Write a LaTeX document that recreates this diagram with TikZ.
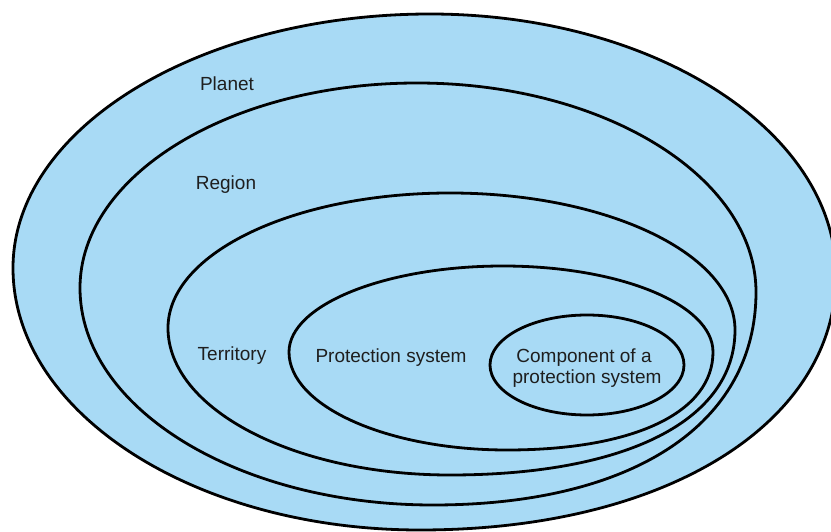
\documentclass[tikz,border=0pt]{standalone}
\usepackage{fontspec}
\setmainfont{Liberation Sans}
\definecolor{zonefill}{RGB}{168,218,245}
\definecolor{labeltext}{RGB}{30,30,30}
\tikzset{
  zone/.style={fill=zonefill, draw=black, line width=2.8pt},
  lbl/.style={text=labeltext, font=\fontsize{19}{21}\selectfont, anchor=base, inner sep=0pt, align=center}
}
\begin{document}
\begin{tikzpicture}[x=1pt,y=-1pt]
\useasboundingbox (0,0) rectangle (831,532);
\clip (0,0) rectangle (831,532);
% Planet
\path[zone] (13,268) .. controls (13,128) and (200,14) .. (430,14)
  .. controls (654,14) and (836,131) .. (836,275)
  .. controls (836,422) and (668,530) .. (420,530)
  .. controls (195,530) and (13,413) .. (13,268) -- cycle;
% Region
\path[zone] (80,288) .. controls (80,175) and (231,83) .. (417,83)
  .. controls (604,83) and (756,177) .. (756,292)
  .. controls (756,424) and (633,505) .. (433,505)
  .. controls (238,505) and (80,408) .. (80,288) -- cycle;
% Territory
\path[zone] (168,328) .. controls (168,253) and (294,193) .. (450,193)
  .. controls (607,193) and (735,254) .. (735,330)
  .. controls (735,420) and (627,475) .. (450,475)
  .. controls (294,475) and (168,409) .. (168,328) -- cycle;
% Protection system
\path[zone] (289,352) .. controls (289,305) and (385,266) .. (503,266)
  .. controls (619,266) and (713,304) .. (713,352)
  .. controls (713,412) and (635,450) .. (507,450)
  .. controls (387,450) and (289,406) .. (289,352) -- cycle;
% Component
\path[zone] (587,365) ellipse [x radius=97, y radius=50];
\node[lbl] (planet) at (227,91) {Planet};
\node[lbl] (region) at (226,190) {Region};
\node[lbl] (territory) at (232,360) {Territory};
\node[lbl] (protsys) at (391,362) {Protection system};
\node[lbl] (comp1) at (584,362) {Component of a};
\node[lbl] (comp2) at (587,383) {protection system};
\end{tikzpicture}
\end{document}
